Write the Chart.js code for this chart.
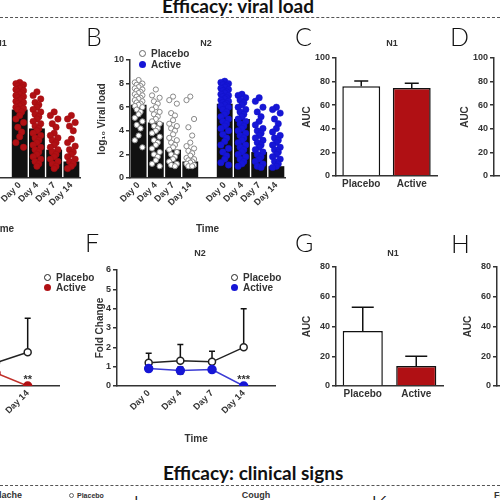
<!DOCTYPE html>
<html>
<head>
<meta charset="utf-8">
<title>Efficacy: viral load</title>
<script src="https://cdn.jsdelivr.net/npm/chart.js@4.4.1/dist/chart.umd.min.js"></script>
<style>
  body { margin: 0; width: 500px; height: 500px; overflow: hidden; position: relative; background: #fff;
         font-family: 'Liberation Sans', Arial, sans-serif; color: #333; }
  canvas, .t { position: absolute; }
  .head { font-family: Lato, 'Open Sans', sans-serif; font-weight: 700; font-size: 19px; line-height: 19px; color: #111; white-space: nowrap; }
  .rule { position: absolute; left: 0; width: 500px; height: 0; border-top: 1px dashed #555; }
  .letter { font-family: Lato, sans-serif; font-weight: 300; font-size: 25px; line-height: 25px; color: #111; }
  .n { font-weight: bold; font-size: 9px; line-height: 9px; width: 40px; text-align: center; white-space: nowrap; }
  .leg { font-weight: bold; font-size: 10px; line-height: 10px; white-space: nowrap; }
  .mk { display: inline-block; width: 7px; height: 7px; border-radius: 50%; margin-right: 5px; box-sizing: border-box; }
</style>
</head>
<body>
<canvas id="cA" width="200" height="185" style="left:-115px;top:50px"></canvas>
<canvas id="cB" width="200" height="185" style="left:90px;top:50px"></canvas>
<canvas id="cC" width="144" height="144" style="left:298px;top:48px"></canvas>
<canvas id="cD" width="144" height="144" style="left:456px;top:48px"></canvas>
<canvas id="cE" width="196" height="185" style="left:-127px;top:260px"></canvas>
<canvas id="cF" width="196" height="185" style="left:89px;top:260px"></canvas>
<canvas id="cG" width="150" height="145" style="left:298px;top:257px"></canvas>
<canvas id="cH" width="150" height="145" style="left:459px;top:257px"></canvas>

<div class="t head" style="left:162px;top:-4px">Efficacy: viral load</div>
<div class="rule" style="top:17px"></div>

<div class="t letter" style="left:86px;top:24px">B</div>
<div class="t letter" style="left:295px;top:24px">C</div>
<div class="t letter" style="left:450px;top:24px">D</div>
<div class="t letter" style="left:85px;top:230px">F</div>
<div class="t letter" style="left:295px;top:230px">G</div>
<div class="t letter" style="left:451px;top:231px">H</div>

<div class="t n" style="left:-19px;top:39px">N1</div>
<div class="t n" style="left:186px;top:39px">N2</div>
<div class="t n" style="left:372px;top:39px">N1</div>
<div class="t n" style="left:180px;top:249px">N2</div>
<div class="t n" style="left:373px;top:249px">N1</div>

<div class="t leg" style="left:139px;top:48px;line-height:11px"><span class="mk" style="border:1.2px solid #666;background:#fff"></span>Placebo<br><span class="mk" style="background:#1616d6"></span>Active</div>
<div class="t leg" style="left:44px;top:273px"><span class="mk" style="border:1.5px solid #222;background:#fff"></span>Placebo<br><span class="mk" style="background:#b01014"></span>Active</div>
<div class="t leg" style="left:231px;top:273px"><span class="mk" style="border:1.5px solid #222;background:#fff"></span>Placebo<br><span class="mk" style="background:#1616d6"></span>Active</div>

<div class="t head" style="left:163px;top:463px">Efficacy: clinical signs</div>
<div class="rule" style="top:485px"></div>
<div class="t n" style="left:-38px;top:491px;width:60px;text-align:right">Headache</div>
<div class="t leg" style="left:69px;top:492px;font-size:7px;line-height:7px"><span class="mk" style="width:5px;height:5px;margin-right:3px;border:1px solid #666"></span>Placebo</div>
<div class="t letter" style="left:129px;top:492px">J</div>
<div class="t n" style="left:236px;top:491px">Cough</div>
<div class="t letter" style="left:371px;top:492px">K</div>
<div class="t n" style="left:494px;top:491px;text-align:left">Fever</div>

<script>
// categories
const DAYS = ['Day 0', 'Day 4', 'Day 7', 'Day 14'];
const SWARM_LABELS = [...DAYS, '', ...DAYS];
const GROUPS = ['Placebo', 'Active'];

// A / B: log10 viral load, bar = median, dots = subjects
const A_BARS = [6.0, 4.5, 2.5, 1.5, null, 5.8, 4.2, 2.4, 1.4];
const A_ACTIVE = [
  [8.1, 8.0, 7.9, 7.8, 7.7, 7.6, 7.5, 7.4, 7.3, 7.2, 7.1, 7.0, 6.9, 6.8, 6.7, 6.6, 6.5, 6.4, 6.3, 6.2, 6.1, 6.0, 5.9, 5.8, 5.6, 5.3, 5.0, 4.7, 4.3, 3.9, 3.5, 3.0, 2.6],
  [7.3, 7.0, 6.7, 6.4, 6.2, 6.0, 5.8, 5.6, 5.4, 5.2, 5.0, 4.8, 4.6, 4.4, 4.2, 4.0, 3.8, 3.6, 3.4, 3.2, 3.0, 2.8, 2.6, 2.4, 2.2, 2.0, 1.8, 1.6, 1.4, 1.2, 1.0],
  [5.6, 5.3, 5.0, 4.6, 4.3, 3.8, 3.6, 3.4, 3.2, 3.0, 2.8, 2.6, 2.4, 2.2, 2.0, 1.8, 1.6, 1.4, 1.2, 1.0, 0.8],
  [5.3, 5.0, 4.7, 4.4, 4.0, 3.3, 3.0, 2.7, 2.4, 2.2, 2.0, 1.8, 1.6, 1.4, 1.2, 1.0, 0.8]
];
const B_BARS = [6.2, 4.7, 2.4, 1.4, null, 6.3, 5.0, 2.2, 1.0];
const B_PLACEBO = [
  [8.3, 8.1, 8.0, 7.9, 7.8, 7.7, 7.6, 7.5, 7.4, 7.3, 7.2, 7.1, 7.0, 6.9, 6.8, 6.7, 6.6, 6.5, 6.4, 6.3, 6.2, 6.1, 6.0, 5.8, 5.6, 5.4, 5.1, 4.8, 4.5, 4.2, 3.6, 3.2, 2.6],
  [7.5, 7.0, 6.8, 6.5, 6.3, 6.0, 5.8, 5.6, 5.4, 5.2, 5.0, 4.8, 4.6, 4.4, 4.2, 4.0, 3.8, 3.5, 3.2, 3.0, 2.8, 2.5, 2.2, 2.0, 1.8, 1.5, 1.2, 1.0],
  [6.9, 6.6, 6.3, 5.5, 5.3, 4.9, 4.6, 4.4, 4.2, 4.0, 3.7, 3.4, 3.2, 3.0, 2.8, 2.6, 2.4, 2.2, 2.0, 1.8, 1.6, 1.4, 1.2, 1.1, 1.0],
  [6.9, 6.6, 5.0, 4.3, 3.6, 3.0, 2.7, 2.5, 2.3, 2.1, 1.9, 1.7, 1.6, 1.5, 1.4, 1.3, 1.2, 1.1, 1.0, 1.0]
];
const B_ACTIVE = [
  [8.2, 8.1, 8.0, 7.9, 7.8, 7.7, 7.6, 7.5, 7.4, 7.3, 7.2, 7.1, 7.0, 6.9, 6.8, 6.7, 6.6, 6.5, 6.4, 6.3, 6.2, 6.1, 6.0, 5.8, 5.6, 5.4, 5.2, 5.0, 4.8, 4.6, 4.4, 4.2, 4.0, 3.7, 3.4, 3.1, 2.8, 2.5, 2.2, 1.9, 1.6, 1.3, 1.1],
  [7.1, 7.0, 6.8, 6.6, 6.4, 6.2, 6.0, 5.8, 5.6, 5.4, 5.2, 5.0, 4.8, 4.6, 4.4, 4.2, 4.0, 3.8, 3.6, 3.4, 3.2, 3.0, 2.8, 2.6, 2.4, 2.2, 2.0, 1.8, 1.6, 1.4, 1.2, 1.0],
  [6.8, 6.5, 6.0, 5.6, 5.2, 4.8, 4.5, 4.2, 4.0, 3.8, 3.6, 3.4, 3.2, 3.0, 2.8, 2.6, 2.4, 2.2, 2.0, 1.8, 1.6, 1.4, 1.2, 1.0, 0.9],
  [6.0, 5.8, 5.5, 5.0, 4.6, 4.2, 3.9, 3.6, 3.4, 3.2, 3.0, 2.8, 2.6, 2.4, 2.2, 2.0, 1.8, 1.6, 1.4, 1.2, 1.0, 0.9]
];

// C / D: AUC viral load, G / H: AUC fold change (mean, SEM)
const C_MEAN = [76, 74.5];
const C_ERR = [4.5, 4];
const D_MEAN = [76, 73];
const D_ERR = [4, 4];
const G_MEAN = [37, 13.5];
const G_ERR = [16, 6.5];
const H_MEAN = [30, 12];
const H_ERR = [12, 5];

// E / F: fold change over time (mean, SEM)
const E_PLACEBO = [1.1, 1.2, 1.2, 1.75];
const E_PLACEBO_ERR = [0.6, 0.8, 0.7, 1.75];
const E_ACTIVE = [0.9, 0.8, 0.67, 0.0];
const E_ACTIVE_ERR = [0.1, 0.1, 0.1, 0];
const E_STARS = ['', '', '', '**'];
const F_PLACEBO = [1.2, 1.3, 1.25, 2.0];
const F_PLACEBO_ERR = [0.5, 0.85, 0.55, 2.0];
const F_ACTIVE = [0.9, 0.8, 0.85, 0.0];
const F_ACTIVE_ERR = [0.1, 0.18, 0.1, 0];
const F_STARS = ['', '', '', '***'];

const FONT = "'Liberation Sans', Arial, sans-serif";
const INK = '#333';
const RED = '#b01014';
const BLUE = '#1616d6';
const tickFont = { family: FONT, weight: 'bold', size: 9 };
const titleFont = { family: FONT, weight: 'bold', size: 10 };
const SWARM_OFFSETS = [0, -0.22, 0.22, -0.11, 0.11];

Chart.defaults.animation = false;
Chart.defaults.responsive = false;
Chart.defaults.font.family = FONT;
Chart.defaults.plugins.legend.display = false;
Chart.defaults.plugins.tooltip.enabled = false;

// whiskers from each mark, drawn under the marks
const errorBars = {
  id: 'errorBars',
  beforeDatasetsDraw(chart) {
    const ctx = chart.ctx;
    chart.data.datasets.forEach((ds, di) => {
      if (!ds.errors) return;
      const meta = chart.getDatasetMeta(di);
      const yScale = chart.scales[meta.yAxisID];
      const cap = ds.capWidth || 3;
      ctx.save();
      ctx.strokeStyle = '#111';
      ctx.lineWidth = 1.5;
      meta.data.forEach((el, i) => {
        const e = ds.errors[i];
        if (!e) return;
        const raw = ds.data[i];
        const v = typeof raw === 'object' ? raw.y : raw;
        const ends = ds.errorBoth ? [v + e, v - e] : [v + e];
        ends.forEach(end => {
          const py = yScale.getPixelForValue(end);
          ctx.beginPath();
          ctx.moveTo(el.x, el.y);
          ctx.lineTo(el.x, py);
          ctx.moveTo(el.x - cap, py);
          ctx.lineTo(el.x + cap, py);
          ctx.stroke();
        });
      });
      ctx.restore();
    });
  }
};

// significance marks above points
const stars = {
  id: 'stars',
  afterDatasetsDraw(chart) {
    const ctx = chart.ctx;
    chart.data.datasets.forEach((ds, di) => {
      if (!ds.stars) return;
      const meta = chart.getDatasetMeta(di);
      ctx.save();
      ctx.fillStyle = INK;
      ctx.font = 'bold 11px ' + FONT;
      ctx.textAlign = 'center';
      ctx.textBaseline = 'middle';
      meta.data.forEach((el, i) => {
        if (ds.stars[i]) ctx.fillText(ds.stars[i], el.x, el.y - 6);
      });
      ctx.restore();
    });
  }
};
Chart.register(errorBars, stars);

function yAxis(max, step, width, title, titlePad) {
  return {
    min: 0,
    max: max,
    ticks: { stepSize: step, color: INK, font: tickFont, padding: 2 },
    grid: { drawOnChartArea: false, drawTicks: true, tickLength: 4, color: INK, lineWidth: 1.5 },
    border: { color: INK, width: 1.5 },
    title: { display: true, text: title, color: INK, font: titleFont, padding: { top: titlePad, bottom: 0 } },
    afterFit: s => { s.width = width; }
  };
}

function xAxis(height, title, rotate) {
  return {
    ticks: { color: INK, font: rotate ? tickFont : titleFont, minRotation: rotate, maxRotation: rotate, autoSkip: false, padding: 2 },
    grid: { display: false, drawTicks: false },
    border: { color: INK, width: 1.5 },
    title: { display: !!title, text: title, color: INK, font: titleFont, padding: 0 },
    afterFit: s => { s.height = height; }
  };
}

function swarm(groups, start) {
  const pts = [];
  groups.forEach((vals, g) => {
    vals.forEach((v, i) => pts.push({ x: start + g + SWARM_OFFSETS[i % SWARM_OFFSETS.length], y: v }));
  });
  return pts;
}

function swarmChart(id, bars, dotSets) {
  const datasets = [{
    type: 'bar',
    data: bars,
    backgroundColor: '#111',
    barPercentage: 0.92,
    categoryPercentage: 1,
    grouped: false,
    order: 3
  }];
  dotSets.forEach(d => datasets.push({
    type: 'scatter',
    xAxisID: 'xs',
    data: swarm(d.groups, d.start),
    pointRadius: d.radius,
    pointBackgroundColor: d.fill,
    pointBorderColor: d.stroke,
    pointBorderWidth: d.strokeWidth,
    order: 1
  }));
  new Chart(document.getElementById(id), {
    type: 'bar',
    data: { labels: SWARM_LABELS, datasets },
    options: {
      layout: { padding: { top: 10, right: 5 } },
      scales: {
        x: xAxis(57, 'Time', 45),
        xs: { type: 'linear', display: false, offset: false, grid: { offset: false }, min: -0.5, max: SWARM_LABELS.length - 0.5 },
        y: yAxis(10, 2, 40, 'log\u2081\u2080 Viral load', 6)
      }
    }
  });
}

function aucChart(id, means, errs, max, cap) {
  new Chart(document.getElementById(id), {
    type: 'bar',
    data: {
      labels: GROUPS,
      datasets: [{
        data: means,
        errors: errs,
        capWidth: cap,
        backgroundColor: ['#fff', RED],
        borderColor: '#111',
        borderWidth: 1.5,
        barPercentage: 0.75,
        categoryPercentage: 1
      }]
    },
    options: {
      layout: { padding: { top: 10, right: 5 } },
      scales: { x: xAxis(16, '', 0), y: yAxis(max, 20, 38, 'AUC', 3) }
    }
  });
}

function foldChart(id, placebo, placeboErr, active, activeErr, marks, color, lineColor) {
  const xy = arr => arr.map((y, i) => ({ x: i, y }));
  const x = xAxis(59, 'Time', 45);
  x.type = 'linear';
  x.min = -1;
  x.max = DAYS.length;
  x.ticks.stepSize = 1;
  x.ticks.callback = v => DAYS[v] || '';
  new Chart(document.getElementById(id), {
    type: 'line',
    data: {
      datasets: [{
        data: xy(active),
        errors: activeErr,
        errorBoth: true,
        stars: marks,
        borderColor: lineColor,
        borderWidth: 1.5,
        pointRadius: 4,
        pointBackgroundColor: color,
        pointBorderColor: color,
        order: 1
      }, {
        data: xy(placebo),
        errors: placeboErr,
        borderColor: '#222',
        borderWidth: 1.5,
        pointRadius: 3.5,
        pointBackgroundColor: '#fff',
        pointBorderColor: '#222',
        pointBorderWidth: 1.5,
        order: 2
      }]
    },
    options: {
      layout: { padding: { top: 10, right: 5 } },
      scales: { x: x, y: yAxis(6, 1, 28, 'Fold Change', 5) }
    }
  });
}

swarmChart('cA', A_BARS, [
  { groups: A_ACTIVE, start: 5, radius: 3.2, fill: RED, stroke: '#a00c10', strokeWidth: 0.5 }
]);
swarmChart('cB', B_BARS, [
  { groups: B_PLACEBO, start: 0, radius: 2.6, fill: '#fff', stroke: '#888', strokeWidth: 1 },
  { groups: B_ACTIVE, start: 5, radius: 3.2, fill: BLUE, stroke: '#1212c8', strokeWidth: 0.5 }
]);
aucChart('cC', C_MEAN, C_ERR, 100, 7);
aucChart('cD', D_MEAN, D_ERR, 100, 7);
aucChart('cG', G_MEAN, G_ERR, 80, 11);
aucChart('cH', H_MEAN, H_ERR, 80, 11);
foldChart('cE', E_PLACEBO, E_PLACEBO_ERR, E_ACTIVE, E_ACTIVE_ERR, E_STARS, RED, '#c0302a');
foldChart('cF', F_PLACEBO, F_PLACEBO_ERR, F_ACTIVE, F_ACTIVE_ERR, F_STARS, BLUE, '#3b3bd4');
</script>
</body>
</html>
